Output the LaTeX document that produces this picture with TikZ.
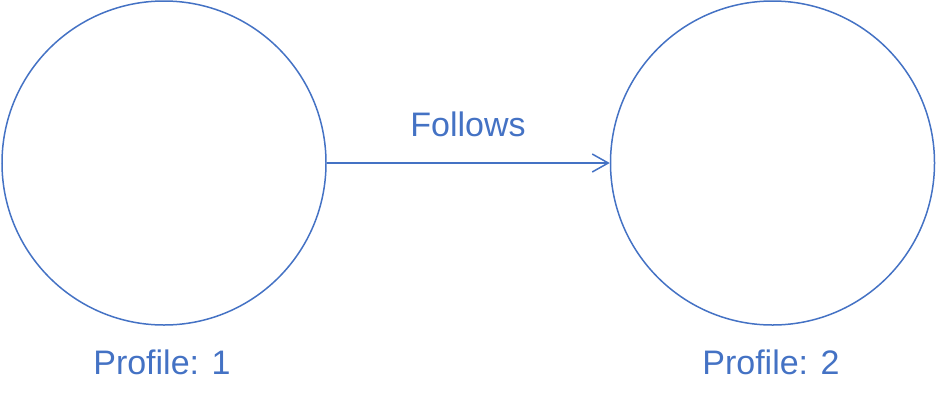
\documentclass[tikz,border=0pt]{standalone}
\usepackage{fontspec}
\setmainfont{Liberation Sans}
\usetikzlibrary{arrows.meta}
\definecolor{mblue}{HTML}{4472C4}
\begin{document}
\begin{tikzpicture}[x=1pt,y=-1pt,
  prof/.style={circle,draw=mblue,line width=1.5pt,minimum size=324pt,inner sep=0pt},
  lbl/.style={text=mblue,font=\fontsize{34}{40}\selectfont,inner sep=0pt},
  conn/.style={draw=mblue,line width=1.5pt,-{Straight Barb[length=16pt,width=18pt,line width=1.5pt]}}]
\useasboundingbox (0,0) rectangle (936,408);
\node[prof] (p1) at (164,163) {};
\node[prof] (p2) at (772.5,163) {};
\draw[conn] (p1.east) -- (p2.west);
\node[lbl] (f) at (468,124) {Follows};
\node[lbl] (l1) at (162,362) {Profile: 1};
\node[lbl] (l2) at (771,362) {Profile: 2};
\end{tikzpicture}
\end{document}
